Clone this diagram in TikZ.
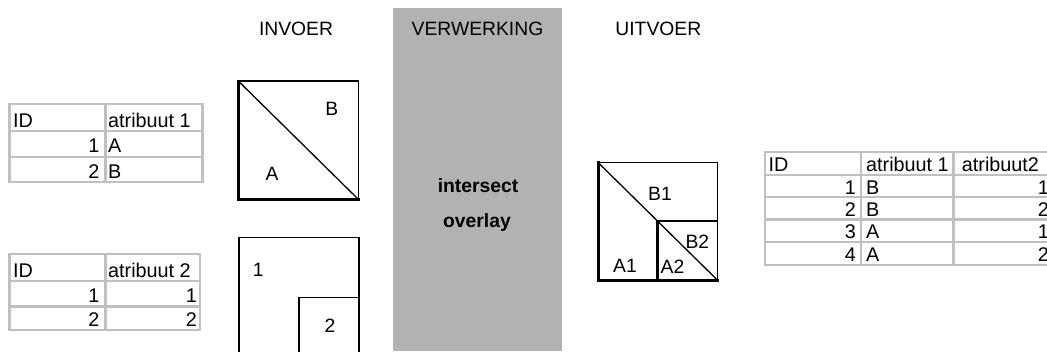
\documentclass[tikz,border=0pt]{standalone}
\usepackage{fontspec}
\setmainfont{Liberation Sans}
\definecolor{band}{RGB}{178,178,178}
\definecolor{cellline}{RGB}{192,192,192}
\begin{document}
\begin{tikzpicture}[x=1pt,y=-1pt,
  txt/.style={inner sep=0pt,font=\fontsize{19.3}{23}\selectfont},
  cell/.style={inner sep=0pt,font=\fontsize{19.8}{23}\selectfont},
  hdr/.style={txt,anchor=base},
  lt/.style={cell,anchor=base west},
  rt/.style={cell,anchor=base east},
  lbl/.style={txt,anchor=center},
  tablegrid/.style={draw=cellline,line width=2.6pt},
  edge/.style={line width=1.3pt,line join=miter,line cap=rect},
  heavy/.style={line width=2.8pt,line cap=rect}]
\useasboundingbox (0,0) rectangle (1047,351);
\clip (0,0) rectangle (1047,351);

% processing band
\fill[band] (393,8) rectangle (562,351);

% column headings
\node[hdr] (hin)  at (296,35.7) {INVOER};
\node[hdr] (hpr)  at (477.5,35.7) {VERWERKING};
\node[hdr] (hout) at (658.3,35.7) {UITVOER};
\node[hdr,font=\bfseries\fontsize{19.3}{23}\selectfont] (op1) at (478,192.5) {intersect};
\node[hdr,font=\bfseries\fontsize{19.3}{23}\selectfont] (op2) at (477,227) {overlay};

% attribute table of layer 1
\draw[tablegrid] (9.3,104) rectangle (202.7,182);
\draw[tablegrid] (9.3,131) -- (202.7,131) (9.3,157) -- (202.7,157) (105.3,104) -- (105.3,182);
\node[lt] (ta-h1) at (13,127) {ID};
\node[lt] (ta-h2) at (108,127) {atribuut 1};
\node[rt] (ta-a1) at (99.5,152.5) {1};
\node[lt] (ta-b1) at (108,152.5) {A};
\node[rt] (ta-a2) at (99.5,178) {2};
\node[lt] (ta-b2) at (108,178) {B};

% attribute table of layer 2
\draw[tablegrid] (9.3,254) rectangle (200,330);
\draw[tablegrid] (9.3,281) -- (200,281) (9.3,306.7) -- (200,306.7) (105.3,254) -- (105.3,330);
\node[lt] (tb-h1) at (13,277) {ID};
\node[lt] (tb-h2) at (108,277) {atribuut 2};
\node[rt] (tb-a1) at (99.5,302.8) {1};
\node[rt] (tb-b1) at (197,302.8) {1};
\node[rt] (tb-a2) at (99.5,326.5) {2};
\node[rt] (tb-b2) at (197,326.5) {2};

% layer 1: square split along the diagonal
\draw[edge] (238.3,81) rectangle (358.3,199.3);
\draw[edge] (238.3,81) -- (358.3,199.3);
\draw[heavy] (238.6,81) -- (238.6,199.6) -- (358.3,199.6);
\node[lbl] (pB) at (331.7,108.7) {B};
\node[lbl] (pA) at (272,173.7) {A};

% layer 2: two nested rectangles
\draw[edge] (239,360) -- (239,237.3) -- (359,237.3) -- (359,360);
\draw[edge] (299,360) -- (299,297.3) -- (359,297.3);
\node[lbl] (p1) at (258.3,270) {1};
\node[lbl] (p2) at (330,326) {2};

% result layer
\draw[edge] (598.3,162.7) rectangle (717.3,280);
\draw[edge] (598.3,162.7) -- (717.3,280);
\draw[edge] (657.3,221) -- (717.3,221);
\draw[heavy] (598.6,162.7) -- (598.6,280.3) -- (717.3,280.3);
\draw[heavy] (657.6,221) -- (657.6,280.3);
\node[lbl] (rB1) at (660,194) {B1};
\node[lbl] (rA1) at (625,266.3) {A1};
\node[lbl] (rA2) at (672.5,266.3) {A2};
\node[lbl] (rB2) at (697.3,242) {B2};

% result attribute table
\draw[tablegrid] (765,152) rectangle (1060,265);
\draw[tablegrid] (765,175) -- (1060,175) (765,197) -- (1060,197) (765,219.5) -- (1060,219.5)
  (765,242) -- (1060,242) (861,152) -- (861,265) (953.3,152) -- (953.3,265);
\node[lt] (tc-h1) at (768.5,171.5) {ID};
\node[lt] (tc-h2) at (866,171.5) {atribuut 1};
\node[lt] (tc-h3) at (961.7,171.5) {atribuut2};
\node[rt] (tc-a1) at (856,194) {1};
\node[lt] (tc-b1) at (866,194) {B};
\node[rt] (tc-c1) at (1049,194) {1};
\node[rt] (tc-a2) at (856,216) {2};
\node[lt] (tc-b2) at (866,216) {B};
\node[rt] (tc-c2) at (1049,216) {2};
\node[rt] (tc-a3) at (856,238.5) {3};
\node[lt] (tc-b3) at (866,238.5) {A};
\node[rt] (tc-c3) at (1049,238.5) {1};
\node[rt] (tc-a4) at (856,261) {4};
\node[lt] (tc-b4) at (866,261) {A};
\node[rt] (tc-c4) at (1049,261) {2};
\end{tikzpicture}
\end{document}
